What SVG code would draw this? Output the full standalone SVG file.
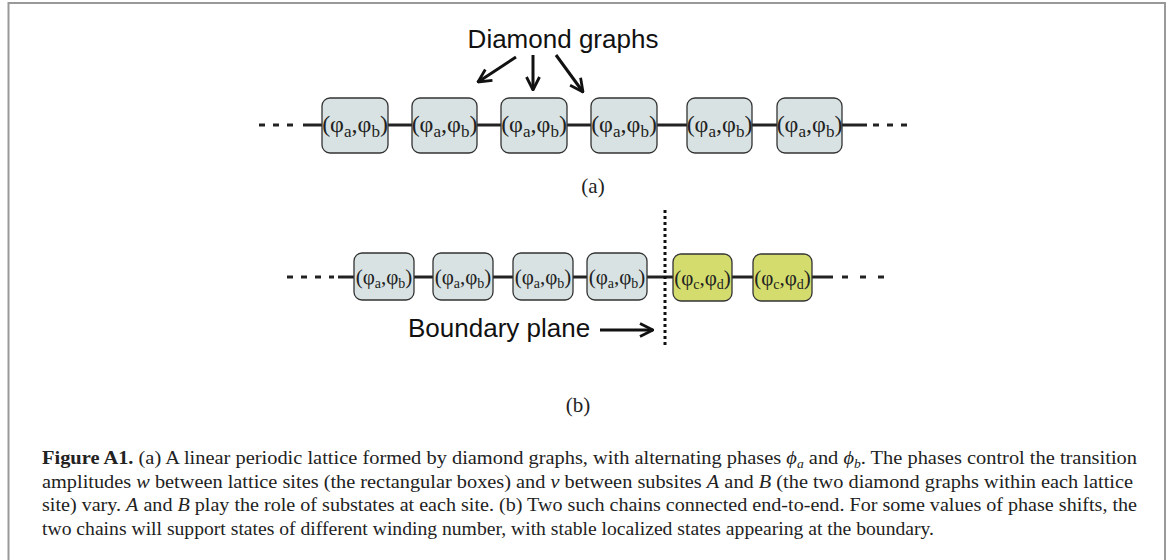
<svg xmlns="http://www.w3.org/2000/svg" width="1168" height="560" viewBox="0 0 1168 560">
<defs>
<style>
.box{fill:#d8e2e2;stroke:#333;stroke-width:1.3}
.gbox{fill:#d3dc6c;stroke:#333;stroke-width:1.3}
.lbl{font-family:"Liberation Serif",serif;font-size:24px;fill:#222}
.lbls{font-family:"Liberation Serif",serif;font-size:21px;fill:#222}
.sans{font-family:"Liberation Sans",Arial,sans-serif;font-size:26px;fill:#111}
.serif{font-family:"Liberation Serif",serif;font-size:21px;fill:#222}
.cap{font-family:"Liberation Serif",serif;font-size:19.5px;fill:#222}
.link{stroke:#222;stroke-width:3;fill:none}
.dash{stroke:#222;stroke-width:3;fill:none;stroke-dasharray:6 8}
.arr{stroke:#111;stroke-width:3;fill:none}
</style>
<marker id="ah" viewBox="0 0 16 16" refX="15" refY="8" markerWidth="16" markerHeight="16" markerUnits="userSpaceOnUse" orient="auto">
<polyline points="2,1.5 15,8 2,14.5" fill="none" stroke="#111" stroke-width="2.8"/>
</marker>
</defs>
<rect x="0" y="0" width="1168" height="560" fill="#fff"/>
<path d="M8.5,560 V3 H1165 V560" fill="none" stroke="#999" stroke-width="2"/>

<g id="connectors">
<line class="dash" x1="259" y1="125" x2="301" y2="125"/>
<line class="link" x1="303" y1="125" x2="322" y2="125"/>
<line class="link" x1="388" y1="125" x2="412" y2="125"/>
<line class="link" x1="477" y1="125" x2="501" y2="125"/>
<line class="link" x1="567" y1="125" x2="591" y2="125"/>
<line class="link" x1="657" y1="125" x2="687" y2="125"/>
<line class="link" x1="752" y1="125" x2="777" y2="125"/>
<line class="link" x1="842" y1="125" x2="867" y2="125"/>
<line class="dash" x1="873" y1="125" x2="912" y2="125"/>
<line class="arr" x1="516" y1="57" x2="478" y2="82" marker-end="url(#ah)"/>
<line class="arr" x1="533" y1="55" x2="533" y2="90" marker-end="url(#ah)"/>
<line class="arr" x1="556" y1="55" x2="583" y2="92" marker-end="url(#ah)"/>
<line class="dash" x1="287" y1="277" x2="334" y2="277"/>
<line class="link" x1="338" y1="277" x2="354" y2="277"/>
<line class="link" x1="414" y1="277" x2="433" y2="277"/>
<line class="link" x1="493" y1="277" x2="513" y2="277"/>
<line class="link" x1="573" y1="277" x2="587" y2="277"/>
<line class="link" x1="647" y1="277" x2="673" y2="277"/>
<line class="link" x1="732" y1="277" x2="753" y2="277"/>
<line class="link" x1="812" y1="277" x2="833" y2="277"/>
<line class="dash" x1="842" y1="277" x2="885" y2="277" style="stroke-dasharray:6 12"/>
<line x1="665" y1="210" x2="665" y2="346" stroke="#111" stroke-width="3" stroke-dasharray="3 3"/>
<line class="arr" x1="600" y1="330" x2="653" y2="330" marker-end="url(#ah)"/>
</g>

<g id="a1"><rect class="box" x="322" y="98" width="66" height="55" rx="8"/><text class="lbl" x="355" y="132" text-anchor="middle">(φ<tspan font-size="17" dy="5">a</tspan><tspan dy="-5">,φ</tspan><tspan font-size="17" dy="5">b</tspan><tspan dy="-5">)</tspan></text></g>
<g id="a2"><rect class="box" x="412" y="98" width="65" height="55" rx="8"/><text class="lbl" x="444.5" y="132" text-anchor="middle">(φ<tspan font-size="17" dy="5">a</tspan><tspan dy="-5">,φ</tspan><tspan font-size="17" dy="5">b</tspan><tspan dy="-5">)</tspan></text></g>
<g id="a3"><rect class="box" x="501" y="98" width="66" height="55" rx="8"/><text class="lbl" x="534" y="132" text-anchor="middle">(φ<tspan font-size="17" dy="5">a</tspan><tspan dy="-5">,φ</tspan><tspan font-size="17" dy="5">b</tspan><tspan dy="-5">)</tspan></text></g>
<g id="a4"><rect class="box" x="591" y="98" width="66" height="55" rx="8"/><text class="lbl" x="624" y="132" text-anchor="middle">(φ<tspan font-size="17" dy="5">a</tspan><tspan dy="-5">,φ</tspan><tspan font-size="17" dy="5">b</tspan><tspan dy="-5">)</tspan></text></g>
<g id="a5"><rect class="box" x="687" y="98" width="65" height="55" rx="8"/><text class="lbl" x="719.5" y="132" text-anchor="middle">(φ<tspan font-size="17" dy="5">a</tspan><tspan dy="-5">,φ</tspan><tspan font-size="17" dy="5">b</tspan><tspan dy="-5">)</tspan></text></g>
<g id="a6"><rect class="box" x="777" y="98" width="65" height="55" rx="8"/><text class="lbl" x="809.5" y="132" text-anchor="middle">(φ<tspan font-size="17" dy="5">a</tspan><tspan dy="-5">,φ</tspan><tspan font-size="17" dy="5">b</tspan><tspan dy="-5">)</tspan></text></g>

<g id="b1"><rect class="box" x="354" y="253" width="60" height="47" rx="8"/><text class="lbls" x="384" y="284" text-anchor="middle">(φ<tspan font-size="14" dy="4">a</tspan><tspan dy="-4">,φ</tspan><tspan font-size="14" dy="4">b</tspan><tspan dy="-4">)</tspan></text></g>
<g id="b2"><rect class="box" x="433" y="253" width="60" height="47" rx="8"/><text class="lbls" x="463" y="284" text-anchor="middle">(φ<tspan font-size="14" dy="4">a</tspan><tspan dy="-4">,φ</tspan><tspan font-size="14" dy="4">b</tspan><tspan dy="-4">)</tspan></text></g>
<g id="b3"><rect class="box" x="513" y="253" width="60" height="47" rx="8"/><text class="lbls" x="543" y="284" text-anchor="middle">(φ<tspan font-size="14" dy="4">a</tspan><tspan dy="-4">,φ</tspan><tspan font-size="14" dy="4">b</tspan><tspan dy="-4">)</tspan></text></g>
<g id="b4"><rect class="box" x="587" y="253" width="60" height="47" rx="8"/><text class="lbls" x="617" y="284" text-anchor="middle">(φ<tspan font-size="14" dy="4">a</tspan><tspan dy="-4">,φ</tspan><tspan font-size="14" dy="4">b</tspan><tspan dy="-4">)</tspan></text></g>
<g id="c1"><rect class="gbox" x="673" y="254" width="59" height="47" rx="8"/><text class="lbls" x="702.5" y="285" text-anchor="middle">(φ<tspan font-size="14" dy="4">c</tspan><tspan dy="-4">,φ</tspan><tspan font-size="14" dy="4">d</tspan><tspan dy="-4">)</tspan></text></g>
<g id="c2"><rect class="gbox" x="753" y="254" width="59" height="47" rx="8"/><text class="lbls" x="782.5" y="285" text-anchor="middle">(φ<tspan font-size="14" dy="4">c</tspan><tspan dy="-4">,φ</tspan><tspan font-size="14" dy="4">d</tspan><tspan dy="-4">)</tspan></text></g>

<g id="labels">
<text class="sans" x="563" y="48" text-anchor="middle">Diamond graphs</text>
<text class="serif" x="593" y="193" text-anchor="middle">(a)</text>
<text class="sans" x="408" y="337">Boundary plane</text>
<text class="serif" x="578" y="412" text-anchor="middle">(b)</text>
</g>

<g id="caption" class="cap">
<text x="42" y="464" textLength="1095" lengthAdjust="spacingAndGlyphs"><tspan font-weight="bold">Figure A1.</tspan> (a) A linear periodic lattice formed by diamond graphs, with alternating phases <tspan font-style="italic">ϕ</tspan><tspan font-style="italic" font-size="13" dy="4">a</tspan><tspan dy="-4"> and </tspan><tspan font-style="italic">ϕ</tspan><tspan font-style="italic" font-size="13" dy="4">b</tspan><tspan dy="-4">. The phases control the transition</tspan></text>
<text x="42" y="488" textLength="1091" lengthAdjust="spacingAndGlyphs">amplitudes <tspan font-style="italic">w</tspan> between lattice sites (the rectangular boxes) and <tspan font-style="italic">v</tspan> between subsites <tspan font-style="italic">A</tspan> and <tspan font-style="italic">B</tspan> (the two diamond graphs within each lattice</text>
<text x="42" y="511" textLength="1095" lengthAdjust="spacingAndGlyphs">site) vary. <tspan font-style="italic">A</tspan> and <tspan font-style="italic">B</tspan> play the role of substates at each site. (b) Two such chains connected end-to-end. For some values of phase shifts, the</text>
<text x="42" y="535" textLength="892" lengthAdjust="spacingAndGlyphs">two chains will support states of different winding number, with stable localized states appearing at the boundary.</text>
</g>
</svg>
